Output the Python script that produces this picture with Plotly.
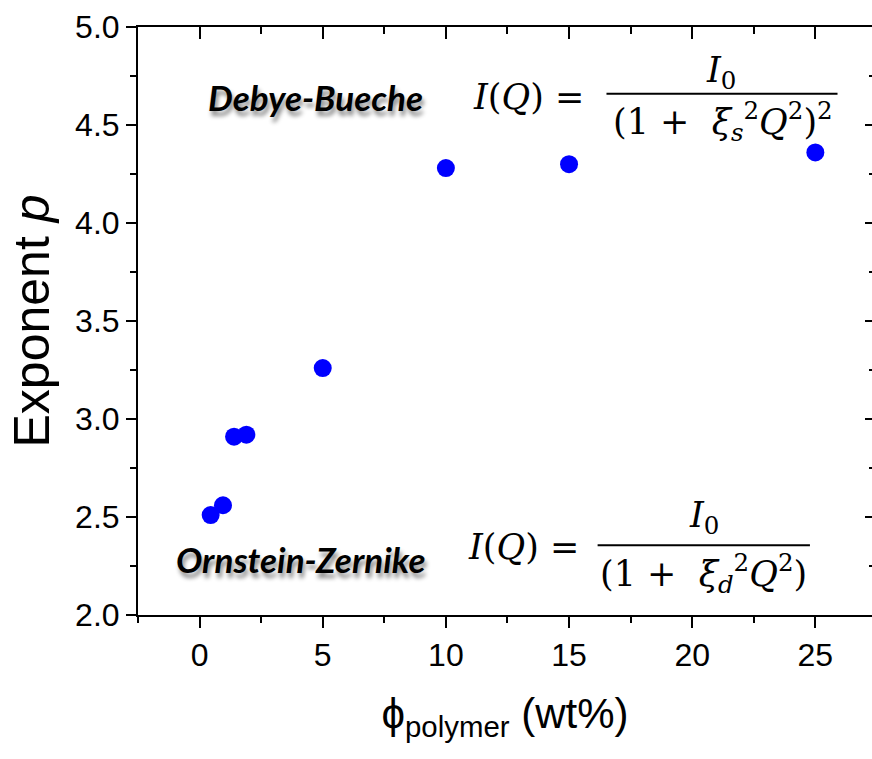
import plotly.graph_objects as go

# Scattering exponent p versus polymer concentration
phi_polymer = [0.45, 0.95, 1.4, 1.9, 5.0, 10.0, 15.0, 25.0]
exponent_p = [2.51, 2.56, 2.91, 2.92, 3.26, 4.28, 4.30, 4.36]

x_range = [-2.5, 27.3]
y_range = [2.0, 5.0]

AX_FONT = "Liberation Sans, Arial, sans-serif"
MATH_FONT = "DejaVu Serif, Liberation Serif, serif"
LABEL_FONT = "Lato, Open Sans, sans-serif"

fig = go.Figure()
fig.add_trace(go.Scatter(
    x=phi_polymer, y=exponent_p, mode="markers",
    marker=dict(color="#0000FF", size=18, line=dict(width=0)),
    showlegend=False, hoverinfo="skip",
))

axis_common = dict(showgrid=False, zeroline=False, linecolor="black",
                   linewidth=2, tickcolor="black", tickwidth=2)

fig.update_layout(
    width=872, height=759,
    margin=dict(l=138, r=0, t=27, b=144),
    paper_bgcolor="white", plot_bgcolor="white",
    xaxis=dict(
        range=x_range, tick0=0, dtick=5, ticks="outside", ticklen=11,
        showline=True,
        minor=dict(dtick=2.5, tick0=0, ticks="outside", ticklen=6,
                   tickwidth=2, tickcolor="black"),
        tickfont=dict(family=AX_FONT, size=32, color="black"),
        title=dict(text="ϕ<sub>polymer</sub> (wt%)",
                   font=dict(family=AX_FONT, size=42, color="black"),
                   standoff=26),
        **axis_common,
    ),
    yaxis=dict(
        range=y_range, tick0=2, dtick=0.5, tickformat=".1f",
        ticks="outside", ticklen=10, showline=True,
        minor=dict(dtick=0.25, tick0=2, ticks="outside", ticklen=6,
                   tickwidth=2, tickcolor="black"),
        tickfont=dict(family=AX_FONT, size=32, color="black"),
        title=dict(text="Exponent <i>p</i>",
                   font=dict(family=AX_FONT, size=50, color="black"),
                   standoff=10),
        **axis_common,
    ),
    # top frame with inward ticks
    xaxis2=dict(
        overlaying="x", side="top", range=x_range, tick0=0, dtick=5,
        ticks="inside", ticklen=12, showline=True, showticklabels=False,
        minor=dict(dtick=2.5, tick0=0, ticks="inside", ticklen=7,
                   tickwidth=2, tickcolor="black"),
        **axis_common,
    ),
    # right side inward ticks
    yaxis2=dict(
        overlaying="y", side="right", range=y_range, tick0=2, dtick=0.5,
        ticks="inside", ticklen=7, showline=False, showticklabels=False,
        minor=dict(dtick=0.25, tick0=2, ticks="inside", ticklen=3,
                   tickwidth=2, tickcolor="black"),
        **axis_common,
    ),
)

# empty trace so the frame axes are laid out
fig.add_trace(go.Scatter(x=[], y=[], xaxis="x2", yaxis="y2",
                         showlegend=False, hoverinfo="skip"))

label_font = dict(family=LABEL_FONT, size=35, color="black",
                  weight="bold", style="italic",
                  shadow="2px 5px 4px rgba(0,0,0,0.45)")
math_font = dict(family=MATH_FONT, size=35, color="black")

annotations = [
    # regime labels
    dict(x=4.7, y=4.645, text="Debye-Bueche", font=label_font),
    dict(x=4.1, y=2.285, text="Ornstein-Zernike", font=label_font),
    # Debye-Bueche form
    dict(x=15.67, y=4.645, xanchor="right", text="<i>I</i>(<i>Q</i>) =", font=math_font),
    dict(x=21.15, y=4.77, text="<i>I</i><sub>0</sub>", font=math_font),
    dict(x=21.24, y=4.52,
         text="(1 +  <i>ξ</i><sub><i>s</i></sub><sup>2</sup><i>Q</i><sup>2</sup>)<sup>2</sup>",
         font=math_font),
    # Ornstein-Zernike form
    dict(x=15.47, y=2.345, xanchor="right", text="<i>I</i>(<i>Q</i>) =", font=math_font),
    dict(x=20.47, y=2.50, text="<i>I</i><sub>0</sub>", font=math_font),
    dict(x=20.45, y=2.21,
         text="(1 +  <i>ξ</i><sub><i>d</i></sub><sup>2</sup><i>Q</i><sup>2</sup>)",
         font=math_font),
]
for a in annotations:
    a.update(xref="x", yref="y", showarrow=False)
fig.update_layout(annotations=annotations)

# fraction bars
fig.add_shape(type="line", xref="x", yref="y", x0=16.52, x1=25.9, y0=4.66, y1=4.66,
              line=dict(color="black", width=2))
fig.add_shape(type="line", xref="x", yref="y", x0=16.16, x1=24.78, y0=2.356, y1=2.356,
              line=dict(color="black", width=2))

fig.write_html("out.html")
